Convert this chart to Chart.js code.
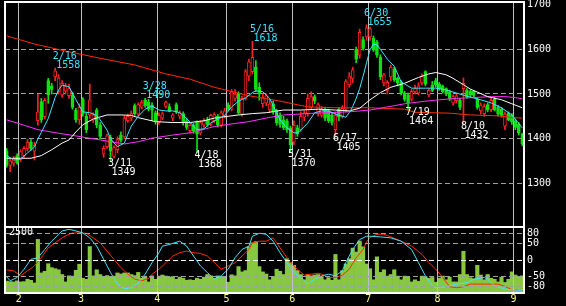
<!DOCTYPE html>
<html>
<head>
<meta charset="utf-8">
<script src="https://cdn.jsdelivr.net/npm/chart.js@4.4.0/dist/chart.umd.min.js"></script>
<style>
  html, body { margin: 0; padding: 0; background: #000; }
  #wrap { position: relative; width: 566px; height: 306px; }
  #wrap canvas { position: absolute; left: 0; top: 0; }
</style>
</head>
<body>
<div id="wrap">
  <canvas id="priceChart" width="566" height="306"></canvas>
  <canvas id="oscChart" width="566" height="306"></canvas>
</div>
<script>
// daily candles, 2022-01-26 .. 2022-09-05 (index = trading day)
const opens = [1372,1340,1345,1362,1352,1362,1377,1392,1372,1440,1483,1449,1530,1518,1538,1505,1498,1506,1496,1498,
  1464,1442,1488,1450,1453,1442,1464,1430,1365,1382,1403,1360,1375,1408,1404,1440,1446,1474,1455,1470,
  1486,1482,1475,1458,1436,1446,1472,1472,1446,1476,1450,1456,1440,1418,1430,1438,1412,1430,1442,1432,
  1440,1450,1430,1450,1475,1466,1490,1500,1455,1490,1540,1550,1560,1515,1478,1480,1464,1478,1462,1452,
  1442,1440,1424,1392,1424,1420,1448,1455,1470,1494,1456,1452,1466,1462,1452,1420,1466,1450,1466,1520,
  1535,1600,1587,1622,1628,1628,1625,1616,1583,1525,1508,1538,1556,1535,1527,1502,1498,1488,1505,1502,
  1525,1550,1498,1520,1530,1522,1518,1512,1505,1480,1485,1487,1512,1508,1506,1506,1488,1462,1456,1476,
  1465,1488,1470,1466,1428,1458,1452,1440,1432,1410];
const highs = [1378,1356,1360,1366,1375,1382,1398,1398,1392,1499,1490,1490,1535,1524,1558,1543,1530,1524,1522,1504,
  1468,1478,1492,1458,1522,1458,1468,1436,1384,1410,1408,1384,1404,1415,1450,1455,1462,1478,1480,1486,
  1490,1488,1480,1462,1458,1460,1484,1478,1456,1480,1462,1460,1446,1436,1434,1440,1440,1445,1448,1455,
  1458,1454,1462,1468,1480,1510,1510,1505,1495,1555,1578,1618,1575,1525,1500,1500,1488,1484,1466,1458,
  1450,1444,1428,1440,1430,1460,1462,1500,1505,1498,1480,1472,1470,1466,1458,1460,1470,1474,1532,1548,
  1560,1605,1645,1628,1655,1650,1630,1620,1588,1546,1530,1565,1560,1538,1530,1506,1502,1510,1520,1525,
  1545,1552,1512,1528,1535,1526,1520,1514,1508,1498,1500,1490,1536,1512,1510,1508,1492,1480,1478,1480,
  1490,1492,1474,1470,1460,1460,1456,1444,1436,1412];
const lows = [1336,1326,1338,1343,1348,1358,1372,1374,1352,1430,1436,1444,1479,1500,1530,1500,1492,1500,1490,1466,
  1436,1432,1450,1413,1445,1436,1424,1400,1358,1378,1349,1356,1368,1392,1400,1436,1440,1452,1450,1466,
  1470,1462,1440,1432,1432,1442,1468,1460,1440,1456,1444,1430,1420,1412,1412,1368,1408,1425,1428,1428,
  1436,1426,1426,1446,1462,1462,1484,1455,1450,1486,1530,1545,1505,1486,1470,1474,1458,1455,1430,1425,
  1420,1414,1370,1386,1405,1416,1440,1450,1465,1478,1450,1448,1440,1436,1430,1405,1440,1446,1460,1515,
  1525,1570,1580,1598,1620,1620,1595,1582,1532,1518,1500,1530,1528,1518,1498,1484,1464,1484,1500,1498,
  1520,1518,1494,1505,1515,1508,1502,1496,1485,1475,1480,1465,1432,1490,1494,1494,1466,1455,1450,1460,
  1460,1462,1450,1448,1420,1440,1432,1420,1408,1384];
const closes = [1340,1350,1356,1346,1371,1378,1392,1378,1385,1460,1442,1486,1498,1510,1552,1536,1524,1518,1512,1470,
  1442,1470,1455,1420,1487,1453,1430,1405,1378,1406,1372,1380,1398,1396,1446,1450,1456,1456,1476,1482,
  1474,1466,1464,1438,1452,1456,1482,1461,1453,1460,1458,1436,1425,1430,1418,1410,1436,1440,1432,1452,
  1454,1430,1458,1462,1466,1505,1500,1458,1490,1550,1572,1582,1510,1500,1492,1496,1478,1460,1435,1432,
  1424,1420,1386,1430,1410,1450,1458,1490,1494,1484,1476,1466,1446,1440,1436,1452,1448,1468,1528,1540,
  1554,1578,1638,1602,1648,1646,1599,1587,1538,1543,1526,1560,1532,1524,1502,1488,1480,1506,1512,1518,
  1540,1522,1508,1508,1520,1512,1505,1500,1490,1494,1496,1470,1524,1494,1498,1497,1470,1475,1472,1464,
  1486,1465,1455,1452,1455,1442,1438,1425,1412,1388];
const volumes = [450,430,420,460,420,430,520,480,380,2030,760,820,1110,960,920,880,700,420,650,640,
  860,1090,560,520,1760,650,880,700,620,660,620,640,760,720,760,760,700,660,780,560,
  640,420,650,520,640,680,640,600,620,520,600,560,480,500,480,560,520,600,700,650,
  560,650,620,600,410,690,650,1000,800,850,1750,1900,1950,1000,800,720,500,620,900,820,
  700,1300,1150,1050,850,700,500,700,650,680,700,620,500,600,480,1460,500,850,1100,1300,
  1700,1550,1970,1750,1100,920,500,1370,780,880,640,700,880,640,500,640,600,420,500,440,
  640,620,560,590,410,560,640,500,600,420,420,700,1580,700,580,540,1050,680,500,700,
  560,520,420,600,400,520,800,680,600,650];
const volumeMax = 2500;

// moving averages: [day index, price]
const ma5 = [[0,1362],[2,1352],[4,1354],[6,1368],[8,1381],[9,1399],[10,1414],[12,1445],[14,1492],[15,1509],[16,1520],
  [18,1516],[20,1487],[22,1460],[24,1458],[26,1452],[27,1442],[29,1419],[30,1400],[31,1390],[32,1382],[34,1390],
  [35,1410],[36,1428],[38,1450],[40,1466],[42,1473],[44,1464],[46,1462],[48,1462],[50,1458],[52,1445],[54,1428],
  [55,1420],[57,1422],[59,1435],[61,1444],[63,1452],[65,1471],[67,1484],[69,1491],[71,1503],[72,1507],[74,1505],
  [76,1490],[78,1458],[79,1442],[81,1424],[83,1413],[84,1413],[85,1419],[87,1435],[89,1458],[91,1462],[93,1462],
  [95,1455],[97,1450],[98,1448],[99,1458],[100,1472],[101,1490],[102,1512],[103,1540],[104,1570],[105,1599],
  [106,1612],[107,1610],[108,1600],[110,1578],[112,1562],[114,1527],[117,1513],[121,1513],[124,1513],[127,1509],
  [130,1502],[134,1493],[137,1487],[140,1480],[143,1469],[146,1453],[149,1424]];
const ma25 = [[0,1356],[7,1356],[10,1362],[13,1375],[16,1390],[18,1397],[20,1415],[22,1431],[25,1444],[29,1453],
  [33,1453],[36,1452],[38,1447],[43,1438],[48,1436],[53,1436],[57,1440],[60,1446],[64,1450],[67,1453],[71,1456],
  [75,1458],[80,1464],[85,1464],[90,1466],[95,1464],[99,1462],[102,1468],[105,1487],[108,1503],[111,1515],
  [115,1524],[119,1537],[122,1545],[124,1548],[127,1543],[129,1535],[134,1511],[139,1494],[143,1487],[146,1478],[149,1469]];
const ma75 = [[0,1442],[5,1430],[9,1420],[15,1412],[20,1406],[27,1397],[34,1388],[38,1393],[42,1401],[48,1408],
  [53,1413],[60,1427],[66,1434],[70,1438],[75,1446],[80,1453],[89,1457],[99,1460],[105,1464],[110,1471],
  [115,1478],[120,1483],[125,1487],[130,1490],[135,1492],[140,1494],[144,1494],[147,1492],[149,1489]];
const ma200 = [[0,1630],[8,1612],[17,1596],[27,1580],[37,1565],[46,1545],[53,1533],[60,1515],[70,1496],[79,1484],
  [87,1471],[96,1469],[105,1469],[115,1466],[118,1459],[128,1457],[134,1453],[142,1451],[146,1447],[149,1446]];

// oscillators in the lower panel: [day index, value]
const oscFast = [[0,-51],[1,-63],[3,-53],[5,-28],[7,2],[9,7],[11,32],[13,57],[15,78],[16,88],[18,93],[20,88],[22,82],
  [24,67],[26,42],[28,2],[30,-38],[32,-73],[34,-87],[36,-84],[38,-69],[40,-43],[42,-8],[44,22],[45,42],[47,47],
  [50,57],[52,42],[54,12],[56,-18],[58,-38],[60,-58],[62,-48],[64,-28],[66,7],[68,32],[70,42],[71,72],[73,81],
  [75,78],[77,57],[79,22],[81,-8],[83,-38],[85,-53],[87,-73],[89,-58],[91,-48],[93,-43],[95,-48],[97,-33],[98,-8],
  [100,32],[102,62],[104,72],[105,72],[108,70],[111,67],[114,57],[117,32],[119,-8],[121,-48],[123,-78],[124,-84],
  [127,-81],[130,-73],[133,-69],[135,-58],[138,-53],[139,-58],[141,-78],[144,-88],[146,-90],[149,-93]];
const oscSlow = [[0,-30],[2,-33],[4,-48],[6,-33],[8,-18],[10,7],[12,37],[14,52],[16,67],[18,78],[19,82],[21,82],
  [23,81],[25,67],[27,52],[29,27],[31,2],[33,-23],[35,-43],[37,-58],[39,-63],[41,-56],[42,-43],[44,-28],[46,-8],
  [48,12],[50,22],[52,27],[54,22],[56,20],[58,12],[60,-8],[62,-28],[64,-18],[66,-8],[68,12],[70,32],[71,52],
  [73,57],[75,57],[77,67],[78,52],[80,22],[82,-8],[84,-28],[86,-46],[88,-43],[90,-40],[91,-43],[93,-53],[95,-53],
  [97,-46],[99,-28],[101,7],[103,32],[104,55],[105,68],[107,78],[109,78],[111,70],[114,57],[117,42],[120,17],
  [122,-8],[124,-28],[126,-53],[128,-81],[130,-84],[132,-81],[134,-73],[138,-73],[142,-73],[144,-80],[146,-90],[149,-93]];

// axes
const monthStarts = [4, 22, 44, 64, 83, 105, 125, 147];
const monthLabels = ['2', '3', '4', '5', '6', '7', '8', '9'];
const priceTicks = [1300, 1400, 1500, 1600, 1700];
const oscTicks = [80, 50, 0, -50, -80];

// swing highs / lows marked on the chart
const noteIdx = [14, 30, 40, 55, 71, 82, 95, 104, 116, 132];
const noteDate = ['2/16', '3/11', '3/28', '4/18', '5/16', '5/31', '6/17', '6/30', '7/19', '8/10'];
const noteValue = [1558, 1349, 1490, 1368, 1618, 1370, 1405, 1655, 1464, 1432];
const noteHigh = [true, false, true, false, true, false, false, true, false, false];

const N = closes.length;
const RED = '#ff2020';
const GREEN = '#10e010';
const CYAN = '#40e4ff';
const FONT = { family: 'DejaVu Sans Mono', size: 10 };
Chart.defaults.font.family = FONT.family;
Chart.defaults.font.size = FONT.size;

const isUp = i => closes[i] >= opens[i];
const pts = arr => arr.map(p => ({ x: p[0], y: p[1] }));
const line = (data, color, axis) => ({
  type: 'line', data: pts(data), yAxisID: axis, borderColor: color, borderWidth: 1,
  pointRadius: 0, tension: 0, order: 1
});
const monthTicks = s => { s.ticks = monthStarts.map(i => ({ value: i - 0.5 })); };

const frame = {
  id: 'frame',
  afterDraw(chart) {
    const { ctx, chartArea: a } = chart;
    ctx.save();
    ctx.strokeStyle = '#fff';
    ctx.lineWidth = 2;
    ctx.strokeRect(a.left, a.top, a.right - a.left, a.bottom - a.top);
    ctx.restore();
  }
};

const notes = {
  id: 'notes',
  afterDatasetsDraw(chart) {
    const { ctx, scales: { x, y } } = chart;
    ctx.save();
    ctx.font = '10px "DejaVu Sans Mono"';
    ctx.textAlign = 'left';
    ctx.textBaseline = 'alphabetic';
    noteIdx.forEach((i, k) => {
      const px = x.getPixelForValue(i);
      const py = y.getPixelForValue(noteValue[k]);
      if (noteHigh[k]) {
        ctx.fillStyle = CYAN;
        ctx.fillText(noteDate[k], px - 2.5, py - 9);
        ctx.fillText(String(noteValue[k]), px + 1, py);
      } else {
        ctx.fillStyle = '#fff';
        ctx.fillText(noteDate[k], px - 2.5, py + 5);
        ctx.fillText(String(noteValue[k]), px + 1, py + 14);
      }
    });
    ctx.restore();
  }
};

// Price panel
new Chart(document.getElementById('priceChart'), {
  type: 'bar',
  data: {
    datasets: [
      line(ma5, CYAN, 'y'),
      line(ma25, '#ffffff', 'y'),
      line(ma75, '#ff30ff', 'y'),
      line(ma200, '#ff2a00', 'y'),
      {
        type: 'bar', yAxisID: 'y', order: 5, grouped: false, barThickness: 3, minBarLength: 1,
        data: closes.map((c, i) => ({ x: i, y: [opens[i], c] })),
        backgroundColor: c => isUp(c.dataIndex) ? '#000' : GREEN,
        borderColor: c => isUp(c.dataIndex) ? RED : GREEN,
        borderWidth: 1, borderSkipped: false
      },
      {
        type: 'bar', yAxisID: 'y', order: 6, grouped: false, barThickness: 1,
        data: closes.map((c, i) => ({ x: i, y: [lows[i], highs[i]] })),
        backgroundColor: c => isUp(c.dataIndex) ? RED : GREEN,
        borderWidth: 0
      }
    ]
  },
  options: {
    responsive: false,
    animation: false,
    layout: { padding: { left: 5, top: 2, right: 0, bottom: 79 } },
    plugins: { legend: { display: false }, tooltip: { enabled: false } },
    scales: {
      x: {
        type: 'linear', min: -0.5, max: N - 0.5, offset: false,
        afterBuildTicks: monthTicks,
        ticks: { display: false },
        grid: { color: '#c0c0c0', drawTicks: false, offset: false },
        border: { display: false },
        afterFit: s => { s.height = 0; s.paddingLeft = 0; s.paddingRight = 0; }
      },
      y: {
        type: 'linear', position: 'right', min: 1202, max: 1706,
        afterBuildTicks: s => { s.ticks = priceTicks.map(v => ({ value: v })); },
        ticks: { color: '#fff', font: FONT, padding: 3, callback: v => String(v) },
        grid: { color: c => (c.tick && c.tick.value === 1700) ? 'rgba(0,0,0,0)' : '#a0a0a0', drawTicks: false },
        border: { display: false, dash: [5, 3] },
        afterFit: s => { s.width = 42; s.paddingTop = 0; s.paddingBottom = 0; }
      }
    }
  },
  plugins: [frame, notes]
});

// Volume + oscillator panel
const volLabel = {
  id: 'volLabel',
  afterDraw(chart) {
    const { ctx, scales: { vol } } = chart;
    ctx.save();
    ctx.font = '10px "DejaVu Sans Mono"';
    ctx.fillStyle = '#fff';
    ctx.textBaseline = 'alphabetic';
    ctx.fillText(String(volumeMax), 9, vol.getPixelForValue(volumeMax) + 7.5);
    ctx.restore();
  }
};

new Chart(document.getElementById('oscChart'), {
  type: 'bar',
  data: {
    datasets: [
      { ...line(oscFast, CYAN, 'osc'), order: 0 },
      line(oscSlow, '#ff2a00', 'osc'),
      {
        type: 'bar', yAxisID: 'vol', order: 3,
        data: volumes.map((v, i) => ({ x: i, y: v })),
        backgroundColor: '#88c840', barPercentage: 1, categoryPercentage: 1
      }
    ]
  },
  options: {
    responsive: false,
    animation: false,
    layout: { padding: { left: 5, top: 227, right: 0, bottom: 0 } },
    plugins: { legend: { display: false }, tooltip: { enabled: false } },
    scales: {
      x: {
        type: 'linear', min: -0.5, max: N - 0.5, offset: false,
        afterBuildTicks: monthTicks,
        ticks: { color: '#ffff88', font: FONT, padding: 0, maxRotation: 0, autoSkip: false,
                 callback: (v, i) => monthLabels[i] },
        grid: { color: '#c0c0c0', drawTicks: false, offset: false, z: 1 },
        border: { display: false },
        afterFit: s => { s.height = 13; s.paddingLeft = 0; s.paddingRight = 0; }
      },
      osc: {
        type: 'linear', position: 'right', min: -100, max: 100,
        afterBuildTicks: s => { s.ticks = oscTicks.map(v => ({ value: v })); },
        ticks: { color: '#fff', font: FONT, padding: 3, callback: v => String(v) },
        grid: { color: c => (c.tick && c.tick.value === 0) ? '#ffffff' : '#a0a0a0', drawTicks: false, z: 1 },
        border: { display: false, dash: [5, 3] },
        afterFit: s => { s.width = 42; s.paddingTop = 0; s.paddingBottom = 0; }
      },
      vol: { type: 'linear', display: false, min: 0, max: volumeMax }
    }
  },
  plugins: [frame, volLabel]
});
</script>
</body>
</html>
